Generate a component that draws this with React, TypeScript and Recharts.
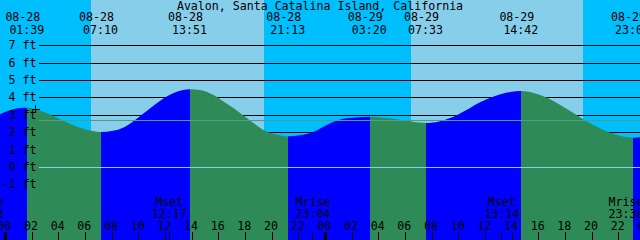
import React from 'react';
import {
  ComposedChart,
  Area,
  XAxis,
  YAxis,
  ReferenceArea,
  ReferenceLine,
  ReferenceDot,
} from 'recharts';

const TITLE = 'Avalon, Santa Catalina Island, California';

// hours from 08-28 00:00 and tide height (ft)
const tideTimes = [
  -0.4, 0.35, 1.1, 1.65, 2.6, 3.35, 4.1, 4.85, 5.6, 6.35, 7.17, 8.08, 8.83, 9.58,
  10.33, 11.08, 11.83, 12.58, 13.33, 13.85, 14.6, 15.58, 16.33, 17.08, 17.83, 18.58,
  19.33, 20.08, 20.83, 21.22, 22.1, 23.08, 23.83, 24.58, 25.33, 26.08, 27.33, 28.33,
  29.6, 30.58, 31.55, 32.53, 33.58, 34.55, 35.53, 36.58, 37.55, 38.7, 39.58, 40.55,
  41.53, 42.58, 43.55, 44.53, 45.58, 46.55, 47.08, 47.6,
];
const tideHeights = [
  3.06, 3.29, 3.42, 3.44, 3.27, 3.04, 2.77, 2.52, 2.29, 2.13, 2.04, 2.11, 2.29, 2.65,
  3.09, 3.54, 3.96, 4.27, 4.46, 4.5, 4.46, 4.18, 3.81, 3.44, 3.0, 2.57,
  2.17, 1.94, 1.81, 1.79, 1.85, 2.04, 2.33, 2.61, 2.8, 2.86, 2.92, 2.86,
  2.75, 2.63, 2.56, 2.65, 2.9, 3.29, 3.73, 4.07, 4.3, 4.4, 4.3, 4.04,
  3.64, 3.15, 2.67, 2.29, 1.94, 1.75, 1.71, 1.74,
];

// high / low tides
const extremeTimes = [1.65, 7.17, 13.85, 21.22, 27.33, 31.55, 38.7, 47.08];
const extremeKinds = ['H', 'L', 'H', 'L', 'H', 'L', 'H', 'L'];
const extremeDates = ['08-28', '08-28', '08-28', '08-28', '08-29', '08-29', '08-29', '08-29'];
const extremeClocks = ['01:39', '07:10', '13:51', '21:13', '03:20', '07:33', '14:42', '23:05'];

// daylight bands
const bandEdges = [-0.4, 6.425, 19.4, 30.425, 43.325, 47.6];
const bandKinds = ['night', 'day', 'night', 'day', 'night'];

// moon events
const moonTimes = [-1.45, 12.283, 23.067, 37.233, 47.633];
const moonNames = ['Mrise', 'Mset', 'Mrise', 'Mset', 'Mrise'];
const moonClocks = ['22:33', '12:17', '23:04', '13:14', '23:38'];

const hourTicks = [
  0, 2, 4, 6, 8, 10, 12, 14, 16, 18, 20, 22, 24, 26, 28, 30, 32, 34, 36, 38, 40, 42,
  44, 46, 48,
];
const feetLevels = [7, 6, 5, 4, 3, 2, 1, 0, -1];
const meanLevel = 2.71;
const nowTime = 2.27;
const nowHeight = 3.35;

const X_DOMAIN: [number, number] = [-0.4, 47.6];
const Y_DOMAIN: [number, number] = [-4.19, 9.65];

const BLUE = '#0000ff';
const GREEN = '#2e8b57';
const NIGHT = '#00bfff';
const DAY = '#87ceeb';
const FONT = '"DejaVu Sans Mono", monospace';
const FS = 11.6;

const data = tideTimes.map((t, i) => ({ t, h: tideHeights[i] }));

function buildStops() {
  const t0 = tideTimes[0];
  const span = tideTimes[tideTimes.length - 1] - t0;
  const colorBefore = (k: string) => (k === 'H' ? BLUE : GREEN);
  const stops: { off: number; color: string }[] = [];
  stops.push({ off: 0, color: colorBefore(extremeKinds[0]) });
  extremeTimes.forEach((t, i) => {
    const off = (t - t0) / span;
    const before = colorBefore(extremeKinds[i]);
    const after = before === BLUE ? GREEN : BLUE;
    stops.push({ off, color: before });
    stops.push({ off, color: after });
  });
  const last = stops[stops.length - 1].color;
  stops.push({ off: 1, color: last });
  return stops;
}
const stops = buildStops();

const txt = { fontFamily: FONT, fontSize: FS, fill: '#000' } as const;
const GUTTER = 39;

export default function App() {
  return (
    <div style={{ position: 'absolute', left: 0, top: 0, width: 640, height: 240 }}>
      <ComposedChart
        width={640}
        height={240}
        data={data}
        margin={{ top: 0, right: 0, bottom: 0, left: 0 }}
      >
        <defs>
          <linearGradient id="tideFill" x1="0" y1="0" x2="1" y2="0">
            {stops.map((s, i) => (
              <stop key={i} offset={s.off} stopColor={s.color} stopOpacity={1} />
            ))}
          </linearGradient>
        </defs>
        <XAxis dataKey="t" type="number" domain={X_DOMAIN} hide allowDataOverflow />
        <YAxis type="number" domain={Y_DOMAIN} hide allowDataOverflow />

        {bandKinds.map((k, i) => (
          <ReferenceArea
            key={`band${i}`}
            x1={bandEdges[i]}
            x2={bandEdges[i + 1]}
            fill={k === 'day' ? DAY : NIGHT}
            fillOpacity={1}
            stroke="none"
            ifOverflow="visible"
            zIndex={-60}
          />
        ))}

        {feetLevels.map((h) => (
          <ReferenceLine
            key={`grid${h}`}
            y={h}
            zIndex={-40}
            shape={(p: any) => (
              <line
                x1={GUTTER}
                y1={p.y1}
                x2={p.x2}
                y2={p.y2}
                stroke="#000"
                strokeWidth={1}
                shapeRendering="crispEdges"
              />
            )}
          />
        ))}

        <Area
          type="monotone"
          dataKey="h"
          baseValue="dataMin"
          fill="url(#tideFill)"
          fillOpacity={1}
          stroke="none"
          isAnimationActive={false}
          dot={false}
          activeDot={false}
          zIndex={100}
        />

        <ReferenceLine
          y={0}
          zIndex={2100}
          shape={(p: any) => (
            <line
              x1={GUTTER}
              y1={p.y1}
              x2={p.x2}
              y2={p.y2}
              stroke="#87ceeb"
              strokeWidth={1}
              shapeRendering="crispEdges"
            />
          )}
        />
        <ReferenceLine
          y={meanLevel}
          zIndex={2100}
          shape={(p: any) => (
            <line
              x1={GUTTER}
              y1={p.y1}
              x2={p.x2}
              y2={p.y2}
              stroke="#4e9e85"
              strokeWidth={1}
              shapeRendering="crispEdges"
            />
          )}
        />

        {feetLevels.map((h) => (
          <ReferenceLine
            key={`lab${h}`}
            y={h}
            zIndex={2200}
            shape={(p: any) => (
              <text x={36.5} y={p.y1 + 3.5} textAnchor="end" {...txt}>
                {`${h} ft`}
              </text>
            )}
          />
        ))}

        {extremeTimes.map((t, i) => (
          <ReferenceLine
            key={`ext${i}`}
            x={t}
            ifOverflow="visible"
            zIndex={2200}
            shape={(p: any) => {
              const top = Math.min(p.y1, p.y2);
              return (
                <g>
                  <text x={p.x1 - 4.5} y={top + 21} textAnchor="middle" {...txt}>
                    {extremeDates[i]}
                  </text>
                  <text x={p.x1 - 0.5} y={top + 34} textAnchor="middle" {...txt}>
                    {extremeClocks[i]}
                  </text>
                </g>
              );
            }}
          />
        ))}

        {moonTimes.map((t, i) => (
          <ReferenceLine
            key={`moon${i}`}
            x={t}
            ifOverflow="visible"
            zIndex={2200}
            shape={(p: any) => {
              const bottom = Math.max(p.y1, p.y2);
              const cx = Math.min(p.x1, 626);
              return (
                <g>
                  <line
                    x1={p.x1}
                    x2={p.x1}
                    y1={bottom - 8}
                    y2={bottom}
                    stroke="#000"
                    strokeWidth={1}
                    shapeRendering="crispEdges"
                  />
                  <text x={cx} y={bottom - 34} textAnchor="middle" {...txt}>
                    {moonNames[i]}
                  </text>
                  <text x={cx} y={bottom - 22.3} textAnchor="middle" {...txt}>
                    {moonClocks[i]}
                  </text>
                </g>
              );
            }}
          />
        ))}

        {hourTicks.map((h) => (
          <ReferenceLine
            key={`hr${h}`}
            x={h}
            ifOverflow="visible"
            zIndex={2200}
            shape={(p: any) => {
              const bottom = Math.max(p.y1, p.y2);
              const hh = String(h % 24).padStart(2, '0');
              return (
                <g>
                  <line
                    x1={p.x1}
                    x2={p.x1}
                    y1={bottom - 8}
                    y2={bottom}
                    stroke="#000"
                    strokeWidth={h % 24 === 0 ? 3 : 1}
                    shapeRendering="crispEdges"
                  />
                  <text x={p.x1 - 1} y={bottom - 10} textAnchor="middle" {...txt}>
                    {hh}
                  </text>
                </g>
              );
            }}
          />
        ))}

        <ReferenceDot
          x={nowTime}
          y={nowHeight}
          zIndex={2300}
          shape={(p: any) => (
            <g>
              <line x1={p.cx - 4} x2={p.cx + 4} y1={p.cy} y2={p.cy} stroke="#000" shapeRendering="crispEdges" />
              <line x1={p.cx} x2={p.cx} y1={p.cy - 4} y2={p.cy + 4} stroke="#000" shapeRendering="crispEdges" />
            </g>
          )}
        />

        <ReferenceLine
          y={Y_DOMAIN[1]}
          ifOverflow="visible"
          zIndex={2200}
          shape={(p: any) => (
            <text x={(p.x1 + p.x2) / 2} y={Math.min(p.y1, p.y2) + 9.5} textAnchor="middle" {...txt}>
              {TITLE}
            </text>
          )}
        />
      </ComposedChart>
    </div>
  );
}
